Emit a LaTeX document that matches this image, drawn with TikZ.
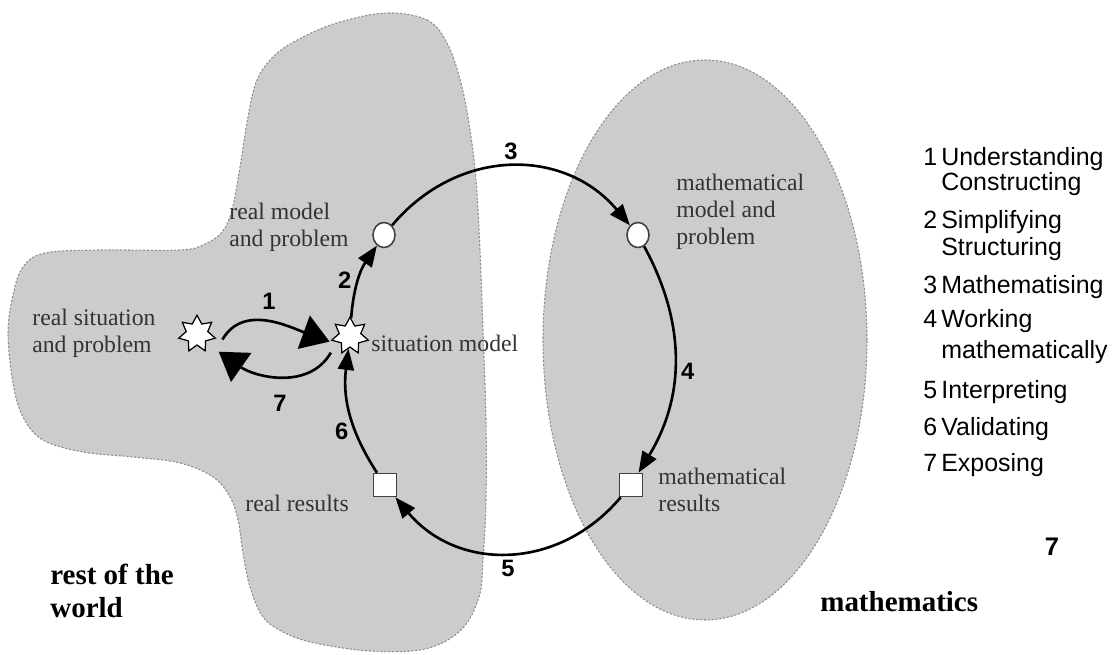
\documentclass[tikz,border=0pt]{standalone}
\usepackage{fontspec}
\setmainfont{Liberation Serif}
\setsansfont{Liberation Sans}
\usetikzlibrary{shapes.geometric, arrows.meta}
\definecolor{worldgray}{RGB}{204,204,204}
\definecolor{rimgray}{RGB}{140,140,140}

\begin{document}
\begin{tikzpicture}[x=0.02cm, y=0.02cm,
    area/.style={fill=worldgray, draw=rimgray, line width=0.6pt, dash pattern=on 1.2pt off 1pt},
    sit/.style={star, star points=7, star point ratio=1.7, draw, fill=white, line width=0.7pt, minimum size=0.75cm, inner sep=0pt},
    model/.style={ellipse, draw=black!75, fill=white, line width=0.9pt, minimum width=0.44cm, minimum height=0.5cm, inner sep=0pt},
    result/.style={rectangle, draw=black!75, fill=white, line width=0.9pt, minimum size=0.46cm, inner sep=0pt},
    cyc/.style={line width=1.5pt, -{Triangle[length=0.42cm, width=0.32cm]}},
    bigtip/.style={line width=1.5pt, -{Triangle[length=0.55cm, width=0.7cm]}},
    lbl/.style={font=\fontsize{13.5}{15.3}\selectfont, text=black!80, align=left, inner sep=0pt},
    num/.style={font=\sffamily\bfseries\fontsize{13.5}{16}\selectfont},
    world/.style={font=\bfseries\fontsize{16.5}{18.7}\selectfont, align=left, inner sep=0pt},
    legend/.style={font=\sffamily\fontsize{14.2}{16}\selectfont, anchor=base west, inner sep=0pt}]
\useasboundingbox (0,0) rectangle (1117,655);

% the two worlds
\draw[area] plot[smooth cycle, tension=0.6] coordinates {
    (387,642) (427,635) (447,612) (461,572) (470,525) (476,475) (480,405)
    (483,325) (486,235) (486,155) (483,95) (479,58) (461,25) (425,6)
    (370,4) (315,12) (285,22) (263,38) (250,68) (243,102) (238,135)
    (230,158) (213,178) (180,192) (133,198) (83,203) (43,215) (23,238)
    (13,272) (8,322) (13,360) (23,388) (45,402) (100,405) (180,405)
    (205,411) (222,423) (232,445) (240,488) (248,538) (257,575) (275,600)
    (303,618) (340,633)};
\draw[area] (705,315) ellipse [x radius=162, y radius=280];

% stations of the cycle
\node[sit] (rs) at (197,321) {};
\node[sit] (sm) at (350,319) {};
\node[model] (rm) at (384,420) {};
\node[model] (mm) at (638,420) {};
\node[result] (mr) at (631,170) {};
\node[result] (rr) at (385,170) {};

\node[lbl, anchor=north west] (rs-txt) at (32,346) {real situation\\and problem};
\node[lbl, anchor=north west] (rm-txt) at (229,452) {real model\\and problem};
\node[lbl, anchor=base west] (sm-txt) at (371,303) {situation model};
\node[lbl, anchor=north west] (mm-txt) at (676,481) {mathematical\\model and\\problem};
\node[lbl, anchor=north west] (mr-txt) at (658,187) {mathematical\\results};
\node[lbl, anchor=base west] (rr-txt) at (245,143) {real results};

\node[world, anchor=north west] (rw-txt) at (50,91) {rest of the\\world};
\node[world, anchor=base west] (ma-txt) at (820,43) {mathematics};
\node[num, anchor=base, inner sep=0pt, font=\sffamily\bfseries\fontsize{14.5}{16}\selectfont] (seven) at (1052,99) {7};

% the steps
\draw[bigtip] ([xshift=0.2cm]rs.-20) to[out=60, in=160] node[num, above=3pt] (n1) {1} ([xshift=-0.1cm]sm.200);
\draw[cyc] (sm) to[bend left=15] node[num, left] (n2) {2} (rm);
\draw[cyc] (rm) to[bend left=50, looseness=1.1] node[num, above] (n3) {3} (mm);
\draw[cyc] (mm) to[bend left=30] node[num, right, pos=0.55] (n4) {4} (mr);
\draw[cyc] (mr) to[bend left=50, looseness=1.1] node[num, below] (n5) {5} (rr);
\draw[cyc] (rr) to[bend left=20] node[num, left, pos=0.35] (n6) {6} (sm);
\draw[bigtip] ([shift={(-0.2cm,-0.15cm)}]sm.225) to[out=240, in=-35] node[num, below=7pt] (n7) {7} ([shift={(0.25cm,-0.2cm)}]rs.-40);

% legend
\foreach \yy/\nn/\tt [count=\i] in {489/1/Understanding, 464//Constructing,
    426/2/Simplifying, 399//Structuring, 361/3/Mathematising, 327/4/Working,
    296//mathematically, 256/5/Interpreting, 219/6/Validating, 183/7/Exposing}
  \node[legend] (leg-\i) at (923,\yy) {\makebox[0.36cm][l]{\nn}\tt};
\end{tikzpicture}
\end{document}
